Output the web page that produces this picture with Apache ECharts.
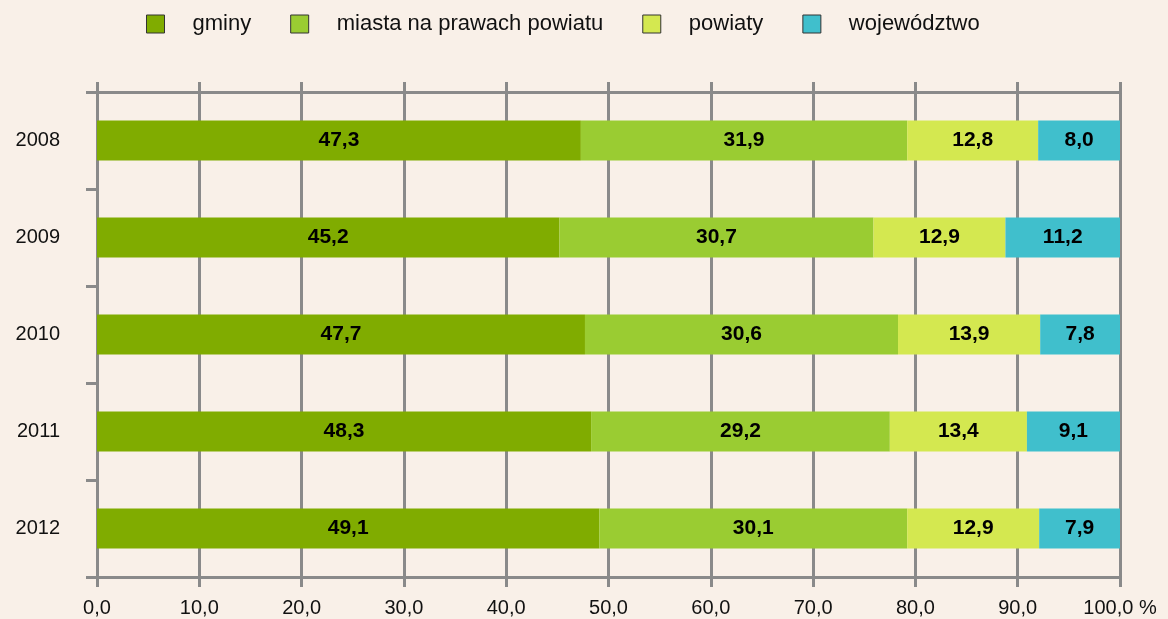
<!DOCTYPE html>
<html>
<head>
<meta charset="utf-8">
<script src="https://cdn.jsdelivr.net/npm/echarts@6/dist/echarts.min.js"></script>
<style>
  html, body { margin: 0; padding: 0; background: #f9f0e8; }
  #chart { width: 1168px; height: 619px; }
</style>
</head>
<body>
<div id="chart"></div>
<script>
var years = ['2008', '2009', '2010', '2011', '2012']
var gminy = [47.3, 45.2, 47.7, 48.3, 49.1]
var miasta = [31.9, 30.7, 30.6, 29.2, 30.1]
var powiaty = [12.8, 12.9, 13.9, 13.4, 12.9]
var wojewodztwo = [8.0, 11.2, 7.8, 9.1, 7.9]

var seriesNames = ['gminy', 'miasta na prawach powiatu', 'powiaty', 'województwo']
var colors = ['#80ac00', '#9acc32', '#d4e850', '#40bfcc']
var gridColor = '#8a8a8a'

function fmt(v) {
  return v.toFixed(1).replace('.', ',')
}

var myChart = echarts.init(document.getElementById('chart'))

function barSeries(name, data, color) {
  return {
    name: name,
    type: 'bar',
    stack: 'total',
    barWidth: 40,
    data: data,
    itemStyle: { color: color },
    label: {
      show: true,
      position: 'inside',
      color: '#000',
      fontFamily: 'Liberation Sans',
      fontWeight: 'bold',
      fontSize: 21,
      formatter: function (p) { return fmt(p.value) }
    }
  }
}

var axisBase = {
  type: 'value',
  min: 0,
  max: 100,
  interval: 10,
  axisLine: { show: true, lineStyle: { color: gridColor, width: 3 } },
  axisTick: { show: true, length: 10, lineStyle: { color: gridColor, width: 3 } }
}

var option = {
  backgroundColor: '#f9f0e8',
  animation: false,
  color: colors,
  legend: {
    top: 8,
    left: 141,
    itemWidth: 18,
    itemHeight: 18,
    itemGap: 39,
    icon: 'rect',
    itemStyle: { borderColor: '#333', borderWidth: 1 },
    textStyle: {
      fontFamily: 'Liberation Sans',
      fontSize: 22,
      color: '#111',
      padding: [0, 0, 0, 23]
    },
    data: seriesNames
  },
  grid: { left: 97, right: 48, top: 92, bottom: 42 },
  xAxis: [
    Object.assign({}, axisBase, {
      position: 'bottom',
      splitLine: { show: true, lineStyle: { color: gridColor, width: 3 } },
      axisLabel: {
        margin: 21,
        fontFamily: 'Liberation Sans',
        fontSize: 20,
        color: '#111',
        formatter: function (v) { return v === 100 ? fmt(v) + ' %' : fmt(v) }
      }
    }),
    Object.assign({}, axisBase, {
      position: 'top',
      splitLine: { show: false },
      axisLabel: { show: false }
    })
  ],
  yAxis: {
    type: 'category',
    data: years,
    inverse: true,
    axisLine: { show: true, lineStyle: { color: gridColor, width: 3 } },
    axisTick: { show: true, length: 11, lineStyle: { color: gridColor, width: 3 } },
    axisLabel: {
      margin: 37,
      fontFamily: 'Liberation Sans',
      fontSize: 20,
      color: '#111'
    }
  },
  series: [
    barSeries(seriesNames[0], gminy, colors[0]),
    barSeries(seriesNames[1], miasta, colors[1]),
    barSeries(seriesNames[2], powiaty, colors[2]),
    barSeries(seriesNames[3], wojewodztwo, colors[3])
  ]
}

myChart.setOption(option)
</script>
</body>
</html>
